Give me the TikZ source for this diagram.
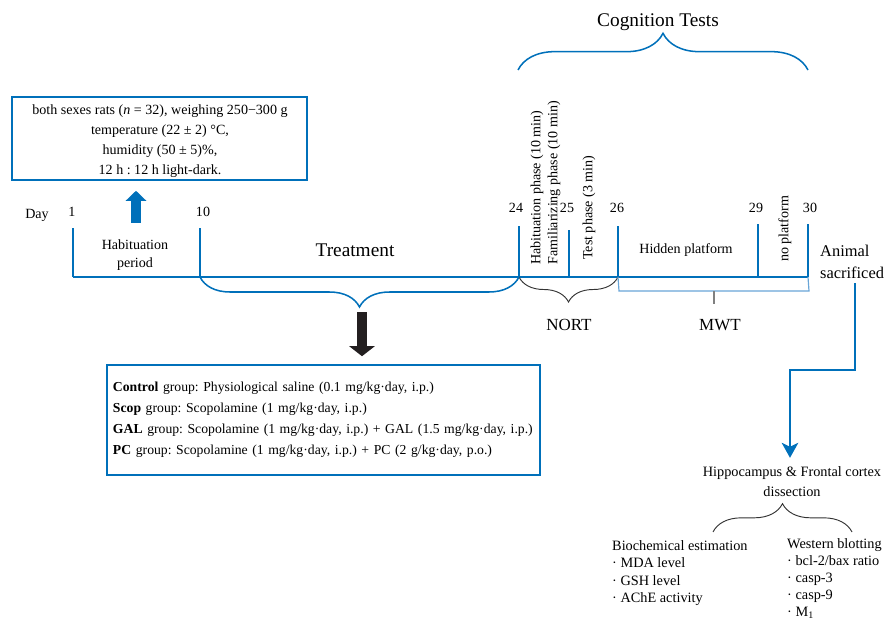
\documentclass[tikz,border=0pt]{standalone}
\usepackage{fontspec}
\setmainfont{Liberation Serif}
\usetikzlibrary{positioning,decorations.pathreplacing,arrows.meta,calc}
\definecolor{figblue}{RGB}{0,112,186}
\definecolor{lightblue}{RGB}{105,165,215}
\definecolor{darkarrow}{RGB}{35,31,32}
\frenchspacing
\begin{document}
\begin{tikzpicture}[x=0.03cm, y=-0.03cm,
    tl/.style={draw=figblue, line width=1.7pt},
    txt/.style={inner sep=0pt, font=\fontsize{12}{16}\selectfont},
    mid/.style={inner sep=0pt, font=\fontsize{14.5}{17}\selectfont},
    big/.style={inner sep=0pt, font=\fontsize{16.5}{19}\selectfont},
    bluebrace/.style={figblue, line width=1.3pt, decorate, decoration={brace, amplitude=#1}},
    blackbrace/.style={black!80, line width=0.8pt, decorate, decoration={brace, amplitude=#1}}]
\useasboundingbox (0,0) rectangle (887,621);

% housing box
\node[draw=figblue, line width=1.3pt, minimum width=8.85cm, minimum height=2.49cm] (cond) at (159.5,138.5) {};
\node[txt, align=center, font=\fontsize{12}{17}\selectfont] (condtxt) at (160,141)
    {both sexes rats (\textit{n} = 32), weighing 250−300 g\\ temperature (22 ± 2) °C,\\ humidity (50 ± 5)\%,\\ 12 h : 12 h light-dark.};
\coordinate (hab) at (136,223);
\draw[figblue, line width=0.3cm, -{Triangle[length=0.3cm, width=0.6cm]}] (hab) -- ($(hab |- cond.south)+(0,10)$);

% time line
\node[txt] (day) at (37,215) {Day};
\foreach \d/\x/\t/\lx/\ly in {1/73/228/72/212, 10/200/228/203/212, 24/519/226/516/208, 25/569/230/567/208,
    26/618/226/617/208, 29/758/224/756/208, 30/808/224/810/208}{
  \coordinate (d\d) at (\x,277);
  \draw[tl] (d\d) -- (\x,\t);
  \node[txt] (lab\d) at (\lx,\ly) {\d};
}
\draw[tl] (d1) -- (d30);

\node[txt, align=center, font=\fontsize{12}{15}\selectfont] (habp) at (135,255) {Habituation\\ period};
\node[big] (treat) at (355,250) {Treatment};
\node[txt] (hidden) at (686,250) {Hidden platform};
\node[txt, rotate=90, anchor=west] (hphase) at (537,265) {Habituation phase (10 min)};
\node[txt, rotate=90, anchor=west] (fphase) at (554,265) {Familiarizing phase (10 min)};
\node[txt, rotate=90, anchor=west] (tphase) at (589,260) {Test phase (3 min)};
\node[txt, rotate=90, anchor=west] (noplat) at (785,262) {no platform};

% cognition tests
\node[big] (cogt) at (658,22) {Cognition Tests};
\draw[bluebrace=1.1cm] (518,70) -- (808,70);

% NORT and MWT
\draw[blackbrace=0.75cm] (d26) -- (d24);
\node[mid] (nort) at (569,325) {NORT};
\draw[lightblue, line width=1pt] (d26) -- (619,291) -- (809,291) -- (d30);
\draw[gray, line width=1.2pt] (714,291) -- (714,304);
\node[mid] (mwt) at (720,325) {MWT};

% treatment groups
\draw[bluebrace=0.9cm] (d24) -- (d10);
\node[draw=figblue, line width=1.3pt, minimum width=12.99cm, minimum height=3.3cm, text width=12.63cm, inner xsep=0.18cm,
    align=left, font=\fontsize{11.7}{18}\selectfont] (groups) at (323.5,420)
    {\textbf{Control} group: Physiological saline (0.1 mg/kg·day, i.p.)\\
     \textbf{Scop} group: Scopolamine (1 mg/kg·day, i.p.)\\
     \textbf{GAL} group: Scopolamine (1 mg/kg·day, i.p.) + GAL (1.5 mg/kg·day, i.p.)\\
     \textbf{PC} group: Scopolamine (1 mg/kg·day, i.p.) + PC (2 g/kg·day, p.o.)};
\coordinate (trtip) at (362,312);
\draw[darkarrow, line width=0.3cm, -{Triangle[length=0.3cm, width=0.75cm]}] (trtip) -- ($(trtip |- groups.north)+(0,-8)$);

% sacrifice
\node[inner sep=0pt, font=\fontsize{14}{19}\selectfont, align=left, anchor=west] (sac) at (820,262) {Animal\\ sacrificed};
\node[txt, align=center, font=\fontsize{12.2}{17}\selectfont] (hippo) at (792,482) {Hippocampus \& Frontal cortex\\ dissection};
\coordinate (bend) at (790,370);
\draw[figblue, line width=1.4pt, -{Stealth[length=0.45cm, width=0.5cm, inset=0.12cm]}]
    ($(sac.south)+(3,4)$) |- (bend) -- ($(bend |- hippo.north)+(0,-9)$);
\draw[blackbrace=0.85cm] (713,532) -- (852,532);
\node[txt, anchor=north west, align=left, font=\fontsize{12.2}{15}\selectfont] (bio) at (612,540)
    {Biochemical estimation\\ · MDA level\\ · GSH level\\ · AChE activity};
\node[txt, anchor=north west, align=left, font=\fontsize{12.2}{14.6}\selectfont] (wb) at (787,538)
    {Western blotting\\ · bcl-2/bax ratio\\ · casp-3\\ · casp-9\\ · M\textsubscript{1}};
\end{tikzpicture}
\end{document}
